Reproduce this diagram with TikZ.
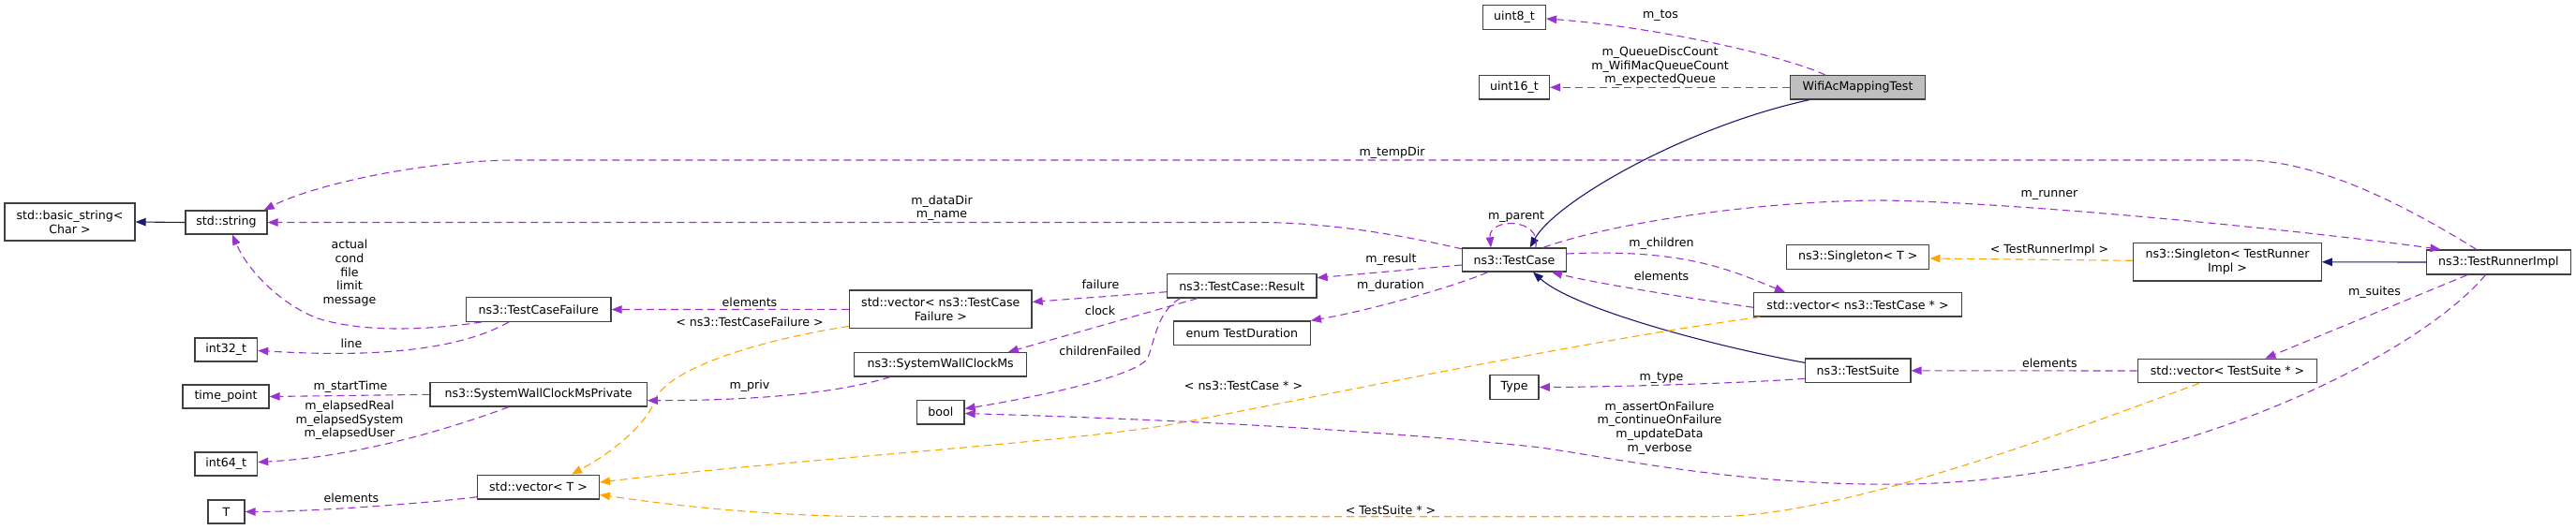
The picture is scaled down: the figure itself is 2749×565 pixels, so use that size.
\documentclass[tikz,border=0pt]{standalone}
\usepackage{fontspec}
\setmainfont{DejaVu Sans}
\usetikzlibrary{arrows.meta}
\definecolor{usec}{HTML}{9A32CD}
\definecolor{inhc}{HTML}{191970}
\definecolor{tplc}{HTML}{FFA500}
\definecolor{boxc}{HTML}{404040}
\definecolor{wgray}{HTML}{BFBFBF}
\newcommand\dgfont{\fontsize{12.6}{14.6}\selectfont}
\begin{document}
\begin{tikzpicture}[x=1pt,y=-1pt,
  box/.style={draw=boxc, line width=1.3pt, inner sep=0pt, align=center, font=\dgfont, text=black, fill=white},
  lbl/.style={inner sep=0pt, align=center, font=\dgfont, text=black},
  tip/.style={-{Triangle[length=11pt,width=8.5pt]}},
  use/.style={draw=usec, line width=1.1pt, dash pattern=on 8pt off 5pt, tip, fill=none},
  inh/.style={draw=inhc, line width=1.1pt, tip},
  tpl/.style={draw=tplc, line width=1.1pt, dash pattern=on 8pt off 5pt, tip},
]
\useasboundingbox (0,0) rectangle (2749,565);

% nodes
\node[box, minimum width=144.3pt, minimum height=25.3pt, fill=wgray] (wifi) at (1982.5,93.3) {WifiAcMappingTest};
\node[box, minimum width=66.8pt, minimum height=25.6pt] (u8) at (1616,18.5) {uint8\_t};
\node[box, minimum width=75pt, minimum height=25.3pt] (u16) at (1616,93.3) {uint16\_t};
\node[box, minimum width=110.5pt, minimum height=25pt] (tc) at (1616,277.5) {ns3::TestCase};
\node[box, minimum width=139pt, minimum height=40pt] (bstr) at (74.5,237) {std::basic\_string<\\Char >};
\node[box, minimum width=87pt, minimum height=25pt] (str) at (241.5,237.5) {std::string};
\node[box, minimum width=66.6pt, minimum height=25pt] (i32) at (241.3,373.5) {int32\_t};
\node[box, minimum width=92pt, minimum height=25pt] (tp) at (241,423.5) {time\_point};
\node[box, minimum width=66.6pt, minimum height=25pt] (i64) at (241.3,495.5) {int64\_t};
\node[box, minimum width=39pt, minimum height=25pt] (T) at (241.5,546.5) {T};
\node[box, minimum width=154.7pt, minimum height=25.6pt] (tcf) at (574.7,330.5) {ns3::TestCaseFailure};
\node[box, minimum width=231.3pt, minimum height=25.3pt] (swcmp) at (574.6,421.3) {ns3::SystemWallClockMsPrivate};
\node[box, minimum width=129.7pt, minimum height=25.7pt] (vecT) at (574.5,520) {std::vector< T >};
\node[box, minimum width=194.4pt, minimum height=40.7pt] (vtcf) at (1003.8,330.4) {std::vector< ns3::TestCase\\Failure >};
\node[box, minimum width=184pt, minimum height=25.3pt] (swcm) at (1003.7,389.3) {ns3::SystemWallClockMs};
\node[box, minimum width=50.5pt, minimum height=25.7pt] (bool) at (1003.8,440) {bool};
\node[box, minimum width=159.2pt, minimum height=25.3pt] (res) at (1325.3,305.3) {ns3::TestCase::Result};
\node[box, minimum width=146pt, minimum height=25.7pt] (dur) at (1325.3,355.8) {enum TestDuration};
\node[box, minimum width=52.2pt, minimum height=25.6pt] (type) at (1616,413.5) {Type};
\node[box, minimum width=152.2pt, minimum height=25.6pt] (sgT) at (1982.7,274.5) {ns3::Singleton< T >};
\node[box, minimum width=221.4pt, minimum height=25.3pt] (vtc) at (1982.5,325.3) {std::vector< ns3::TestCase * >};
\node[box, minimum width=112.4pt, minimum height=25.7pt] (ts) at (1982.7,395.8) {ns3::TestSuite};
\node[box, minimum width=200.5pt, minimum height=40.3pt] (sgR) at (2377,279.8) {ns3::Singleton< TestRunner\\Impl >};
\node[box, minimum width=153.6pt, minimum height=26pt] (tri) at (2666.4,280) {ns3::TestRunnerImpl};
\node[box, minimum width=191.4pt, minimum height=25.4pt] (vts) at (2377,396) {std::vector< TestSuite * >};

% edges
\draw[use] ([xshift=-34.7pt]wifi.north) .. controls (1900,58) and (1760,28) .. ([yshift=-1.5pt]u8.east);
\draw[use] (wifi.west) -- (u16.east);
\draw[inh] ([xshift=-51.5pt]wifi.south) .. controls (1800,135) and (1660,215) .. ([xshift=16.7pt]tc.north);
\draw[use] ([yshift=-1.5pt]tc.north west) .. controls (1500,252) and (1420,237.5) .. (1343,237.5) -- (str.east);
\draw[use] ([xshift=-23.7pt]tri.north) .. controls (2560,215) and (2470,171) .. (2394,171) -- (551,171) .. controls (460,171) and (340,195) .. ([xshift=-4pt]str.north east);
\draw[use] ([xshift=22.7pt]tc.north) .. controls (1646,232) and (1588,232) .. ([xshift=-25pt]tc.north);
\draw[use] ([xshift=31pt]tc.north) .. controls (1720,238) and (1880,214) .. (2010,214) .. controls (2150,216) and (2450,245) .. ([xshift=-62pt]tri.north);
\draw[use] ([yshift=-5.5pt]tc.west) -- ([yshift=8.6pt]res.east);
\draw[use] ([xshift=-28.3pt]tc.south) .. controls (1560,303) and (1470,330) .. (dur.north east);
\draw[use] ([yshift=6.5pt]tc.east) .. controls (1800,265) and (1850,290) .. ([xshift=-77.5pt]vtc.north);
\draw[use] ([yshift=-3pt]vtc.west) .. controls (1800,318) and (1700,302) .. ([xshift=40pt]tc.south);
\draw[inh] ([yshift=8.5pt]ts.west) .. controls (1830,370) and (1680,330) .. ([xshift=20pt]tc.south);
\draw[use] ([yshift=-8.5pt]ts.west) .. controls (1850,410) and (1700,413.5) .. (type.east);
\draw[use] (vts.west) -- (ts.east);
\draw[inh] (tri.west) -- (sgR.east);
\draw[tpl] ([yshift=1.5pt]sgR.west) -- ([yshift=-1.5pt]sgT.east);
\draw[use] ([xshift=-33.4pt]tri.south) -- ([xshift=40.4pt]vts.north);
\draw[use] ([xshift=-14pt]tri.south) .. controls (2580,380) and (2320,512) .. (2035,517) .. controls (1850,520) and (1700,484) .. (1633,476.7) .. controls (1450,458) and (1250,448) .. ([yshift=-1.5pt]bool.east);
\draw[use] ([xshift=-66pt]res.south) .. controls (1236,332) and (1233,360) .. (1225,382) .. controls (1215,402) and (1100,425) .. ([yshift=3.5pt]bool.east);
\draw[use] ([yshift=-6.4pt]res.west) -- ([yshift=8pt]vtcf.east);
\draw[use] ([xshift=-47.3pt]res.south) -- ([xshift=-20.6pt]swcm.north east);
\draw[use] (vtcf.west) -- (tcf.east);
\draw[tpl] ([yshift=3pt]vtcf.south west) .. controls (800,365) and (715,395) .. (700,425) .. controls (690,455) and (650,485) .. ([xshift=35.5pt]vecT.north);
\draw[use] ([xshift=-53.7pt]swcm.south) .. controls (900,418) and (820,427.7) .. ([yshift=-6.4pt]swcmp.east);
\draw[use] ([xshift=-60.7pt]tcf.south) .. controls (460,352) and (390,356) .. (339,340) .. controls (300,325) and (265,290) .. ([xshift=6.5pt]str.south);
\draw[use] ([xshift=-31.7pt]tcf.south) .. controls (470,385) and (340,378) .. ([yshift=-1pt]i32.east);
\draw[use] (swcmp.west) -- (tp.east);
\draw[use] ([xshift=-31.6pt]swcmp.south) .. controls (480,458) and (380,488) .. ([yshift=2pt]i64.east);
\draw[use] ([yshift=-10.7pt]vecT.west) .. controls (450,538) and (330,546.5) .. (T.east);
\draw[tpl] ([xshift=-104.5pt]vtc.south) .. controls (1700,362) and (1400,425) .. (1257,452) .. controls (1150,472) and (850,490) .. ([yshift=5pt]vecT.east);
\draw[tpl] ([xshift=-30.3pt]vts.south) .. controls (2150,483) and (1950,551.7) .. (1828,551.7) -- (944,551.7) .. controls (820,551.7) and (720,540) .. ([yshift=-8.3pt]vecT.east);
\draw[inh] (str.west) -- (bstr.east);

% labels
\node[lbl] (l1) at (1772,16.7) {m\_tos};
\node[lbl] (l2) at (1771.6,71) {m\_QueueDiscCount\\m\_WifiMacQueueCount\\m\_expectedQueue};
\node[lbl] (l3) at (1485.5,163.3) {m\_tempDir};
\node[lbl] (l4) at (1005,222) {m\_dataDir\\m\_name};
\node[lbl] (l5) at (1618,231.7) {m\_parent};
\node[lbl] (l6) at (2187,208.7) {m\_runner};
\node[lbl] (l7) at (1484.5,276.7) {m\_result};
\node[lbl] (l8) at (1484,304.7) {m\_duration};
\node[lbl] (l9) at (1773,260.3) {m\_children};
\node[lbl] (l10) at (1773,294.7) {elements};
\node[lbl] (l11) at (1773,403.7) {m\_type};
\node[lbl] (l12) at (2187.3,387.3) {elements};
\node[lbl] (l13) at (2187,267.3) {< TestRunnerImpl >};
\node[lbl] (l14) at (2534,311.7) {m\_suites};
\node[lbl] (l15) at (1771,456.8) {m\_assertOnFailure\\m\_continueOnFailure\\m\_updateData\\m\_verbose};
\node[lbl] (l16) at (1174,375) {childrenFailed};
\node[lbl] (l17) at (1174.4,304) {failure};
\node[lbl] (l18) at (1174,331.7) {clock};
\node[lbl] (l19) at (800,322.7) {elements};
\node[lbl] (l20) at (800,343.3) {< ns3::TestCaseFailure >};
\node[lbl] (l21) at (800,411.7) {m\_priv};
\node[lbl] (l22) at (373,291.7) {actual\\cond\\file\\limit\\message};
\node[lbl] (l23) at (375,366.7) {line};
\node[lbl] (l24) at (374,412.7) {m\_startTime};
\node[lbl] (l25) at (373,449) {m\_elapsedReal\\m\_elapsedSystem\\m\_elapsedUser};
\node[lbl] (l26) at (375,531.7) {elements};
\node[lbl] (l27) at (1327,412.3) {< ns3::TestCase * >};
\node[lbl] (l28) at (1484,544.3) {< TestSuite * >};
\end{tikzpicture}
\end{document}
